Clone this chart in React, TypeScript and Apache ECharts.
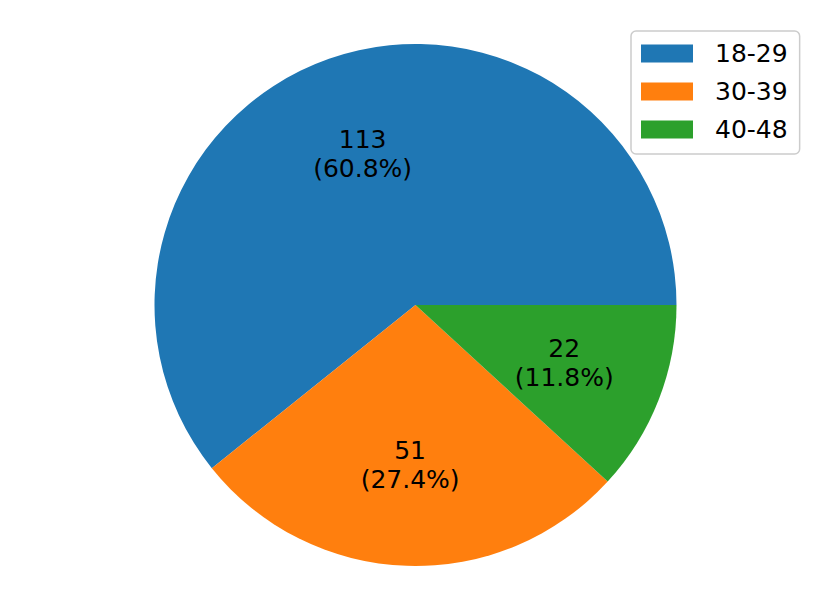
import React, { useEffect, useRef } from "react";
import * as echarts from "echarts";

const categories = ["18-29", "30-39", "40-48"];
const counts = [113, 51, 22];
const colors = ["#1f77b4", "#ff7f0e", "#2ca02c"];

export default function App() {
  const ref = useRef<HTMLDivElement>(null);
  useEffect(() => {
    if (!ref.current) return;
    const chart = echarts.init(ref.current, undefined, { renderer: "svg" });
    const total = counts.reduce((a, b) => a + b, 0);
    const data = categories.map((name, i) => ({
      name,
      value: counts[i],
      itemStyle: { color: colors[i] },
    }));
    const R = 261;
    const font = "DejaVu Sans";
    chart.setOption({
      animation: false,
      backgroundColor: "#ffffff",
      legend: {
        orient: "vertical",
        left: 631,
        top: 31,
        data: categories,
        icon: "rect",
        itemWidth: 52,
        itemHeight: 18,
        itemGap: 13,
        padding: [10, 12, 12, 10],
        borderColor: "#cccccc",
        borderWidth: 1.5,
        borderRadius: 5,
        backgroundColor: "rgba(255,255,255,0.8)",
        selectedMode: false,
        formatter: (name: string) => `{t|${name}}`,
        textStyle: {
          fontFamily: font,
          fontSize: 25,
          color: "#000",
          rich: {
            t: { fontFamily: font, fontSize: 25, color: "#000", padding: [0, 0, 0, 17] },
          },
        },
      },
      series: [
        {
          type: "pie",
          center: [415.5, 305],
          radius: [0, R],
          startAngle: 0,
          clockwise: false,
          silent: true,
          label: { show: false },
          labelLine: { show: false },
          itemStyle: { borderWidth: 0 },
          data,
        },
        {
          type: "pie",
          center: [415.5, 305],
          radius: [R * 0.2, R],
          startAngle: 0,
          clockwise: false,
          silent: true,
          legendHoverLink: false,
          itemStyle: { color: "rgba(0,0,0,0)", borderWidth: 0 },
          label: {
            show: true,
            position: "inside",
            fontFamily: font,
            fontSize: 25,
            lineHeight: 29,
            color: "#000",
            align: "center",
            formatter: (p: any) =>
              `${p.value}\n(${((p.value / total) * 100).toFixed(1)}%)`,
          },
          labelLine: { show: false },
          data: categories.map((name, i) => ({ name: name + " ", value: counts[i] })),
        },
      ],
    });
    return () => chart.dispose();
  }, []);
  return (
    <div
      ref={ref}
      style={{ position: "fixed", left: 0, top: 0, width: 831, height: 611 }}
    />
  );
}
